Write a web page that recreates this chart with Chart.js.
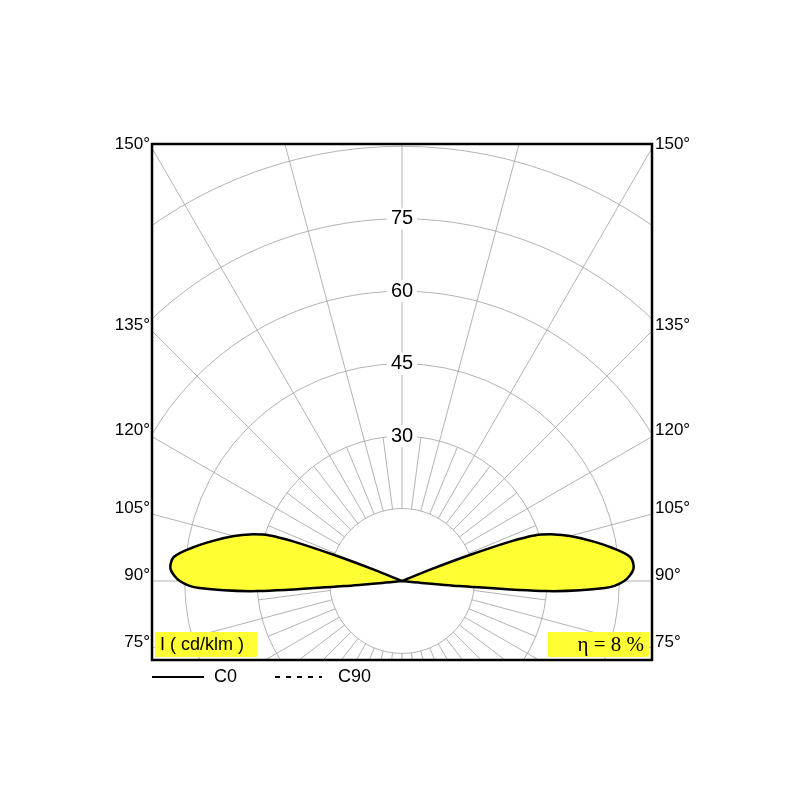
<!DOCTYPE html>
<html>
<head>
<meta charset="utf-8">
<script src="https://cdn.jsdelivr.net/npm/chart.js@4.4.0/dist/chart.umd.min.js"></script>
<style>
  body { margin: 0; background: #fff; }
  #wrap { width: 800px; height: 800px; }
</style>
</head>
<body>
<div id="wrap"><canvas id="polar" width="800" height="800"></canvas></div>
<script>
// C0 curve: gamma (deg from nadir) and intensity (cd/klm), right half
var gammas = [80, 84, 85, 86, 88, 90, 93, 96, 99, 102, 105, 107, 109, 110, 111, 112, 114];
var c0 = [0, 2, 12, 30, 42, 46, 48, 47.5, 44, 40, 36, 33, 29, 24, 15, 6, 0];
var ringValues = [15, 30, 45, 60, 75, 90, 105];
var ringLabels = ["30", "45", "60", "75"];
var angleLabels = [75, 90, 105, 120, 135, 150];

// polar -> cartesian (0 deg pointing down)
function toXY(g, r, side) {
  var a = g * Math.PI / 180;
  return { x: side * r * Math.sin(a), y: -r * Math.cos(a) };
}

var shape = [];
for (var i = 0; i < gammas.length; i++) shape.push(toXY(gammas[i], c0[i], 1));
for (var j = gammas.length - 1; j >= 0; j--) shape.push(toXY(gammas[j], c0[j], -1));
shape.push(shape[0]);

var PX = 4.83; // px per cd/klm

var gridPlugin = {
  id: 'polarGrid',
  beforeDatasetsDraw: function(chart) {
    var ctx = chart.ctx, a = chart.chartArea;
    var sx = chart.scales.x, sy = chart.scales.y;
    var cx = sx.getPixelForValue(0), cy = sy.getPixelForValue(0);
    ctx.save();
    ctx.beginPath();
    ctx.rect(a.left, a.top, a.right - a.left, a.bottom - a.top);
    ctx.clip();
    ctx.strokeStyle = '#a0a0a0';
    ctx.lineWidth = 0.8;
    ringValues.forEach(function(v) {
      ctx.beginPath();
      ctx.arc(cx, cy, sx.getPixelForValue(v) - cx, 0, Math.PI * 2);
      ctx.stroke();
    });
    var r15 = sx.getPixelForValue(15) - cx;
    var r30 = sx.getPixelForValue(30) - cx;
    for (var g = 0; g < 360; g += 7.5) {
      var rad = g * Math.PI / 180;
      var rEnd = (g % 15 === 0) ? 800 : r30;
      ctx.beginPath();
      ctx.moveTo(cx + r15 * Math.sin(rad), cy + r15 * Math.cos(rad));
      ctx.lineTo(cx + rEnd * Math.sin(rad), cy + rEnd * Math.cos(rad));
      ctx.stroke();
    }
    ctx.restore();
  },
  afterDatasetsDraw: function(chart) {
    var ctx = chart.ctx, a = chart.chartArea;
    var sx = chart.scales.x, sy = chart.scales.y;
    var cx = sx.getPixelForValue(0), cy = sy.getPixelForValue(0);
    ctx.save();
    ctx.font = '20px "Liberation Sans", Arial, sans-serif';
    ctx.textAlign = 'center';
    ctx.textBaseline = 'middle';
    ringLabels.forEach(function(t) {
      var y = sy.getPixelForValue(Number(t));
      var w = ctx.measureText(t).width + 8;
      ctx.fillStyle = '#fff';
      ctx.fillRect(cx - w / 2, y - 11, w, 22);
      ctx.fillStyle = '#000';
      ctx.fillText(t, cx, y);
    });
    ctx.font = '17px "Liberation Sans", Arial, sans-serif';
    var half = cx - a.left;
    angleLabels.forEach(function(g) {
      var y = cy - half * Math.tan((g - 90) * Math.PI / 180);
      y = Math.max(y, a.top + 6) - 6;
      ctx.fillStyle = '#000';
      ctx.textAlign = 'right';
      ctx.fillText(g + '°', a.left - 2, y);
      ctx.textAlign = 'left';
      ctx.fillText(g + '°', a.right + 3, y);
    });
    // yellow info boxes
    ctx.fillStyle = '#ffff33';
    ctx.fillRect(a.left + 3, a.bottom - 28, 102, 25);
    ctx.fillRect(a.right - 104, a.bottom - 28, 101, 25);
    ctx.fillStyle = '#000';
    ctx.textAlign = 'left';
    ctx.font = '18px "Liberation Sans", Arial, sans-serif';
    ctx.fillText('I ( cd/klm )', a.left + 8, a.bottom - 15);
    ctx.font = '21px "Liberation Serif", "Times New Roman", serif';
    ctx.textAlign = 'right';
    ctx.fillText('η = 8 %', a.right - 8, a.bottom - 15);
    // frame
    ctx.strokeStyle = '#000';
    ctx.lineWidth = 2.5;
    ctx.strokeRect(a.left, a.top, a.right - a.left, a.bottom - a.top);
    // line legend
    ctx.lineWidth = 2;
    ctx.beginPath();
    ctx.moveTo(a.left, a.bottom + 17); ctx.lineTo(a.left + 52, a.bottom + 17);
    ctx.stroke();
    ctx.setLineDash([5, 6]);
    ctx.beginPath();
    ctx.moveTo(a.left + 123, a.bottom + 17); ctx.lineTo(a.left + 170, a.bottom + 17);
    ctx.stroke();
    ctx.setLineDash([]);
    ctx.font = '18px "Liberation Sans", Arial, sans-serif';
    ctx.textAlign = 'left';
    ctx.fillText('C0', a.left + 62, a.bottom + 17);
    ctx.fillText('C90', a.left + 186, a.bottom + 17);
    ctx.restore();
  }
};

var boxL = 152, boxR = 652, boxT = 144, boxB = 660, cxp = 402, cyp = 581;
new Chart(document.getElementById('polar'), {
  type: 'scatter',
  data: {
    datasets: [{
      label: 'C0',
      data: shape,
      showLine: true,
      tension: 0.3,
      borderColor: '#000',
      borderWidth: 2.5,
      backgroundColor: '#ffff33',
      fill: 'shape',
      pointRadius: 0
    }]
  },
  options: {
    responsive: false,
    animation: false,
    layout: { padding: { left: boxL, right: 800 - boxR, top: boxT, bottom: 800 - boxB } },
    plugins: { legend: { display: false }, tooltip: { enabled: false } },
    scales: {
      x: { display: false, min: -(cxp - boxL) / PX, max: (boxR - cxp) / PX },
      y: { display: false, min: -(boxB - cyp) / PX, max: (cyp - boxT) / PX }
    }
  },
  plugins: [gridPlugin]
});
</script>
</body>
</html>
